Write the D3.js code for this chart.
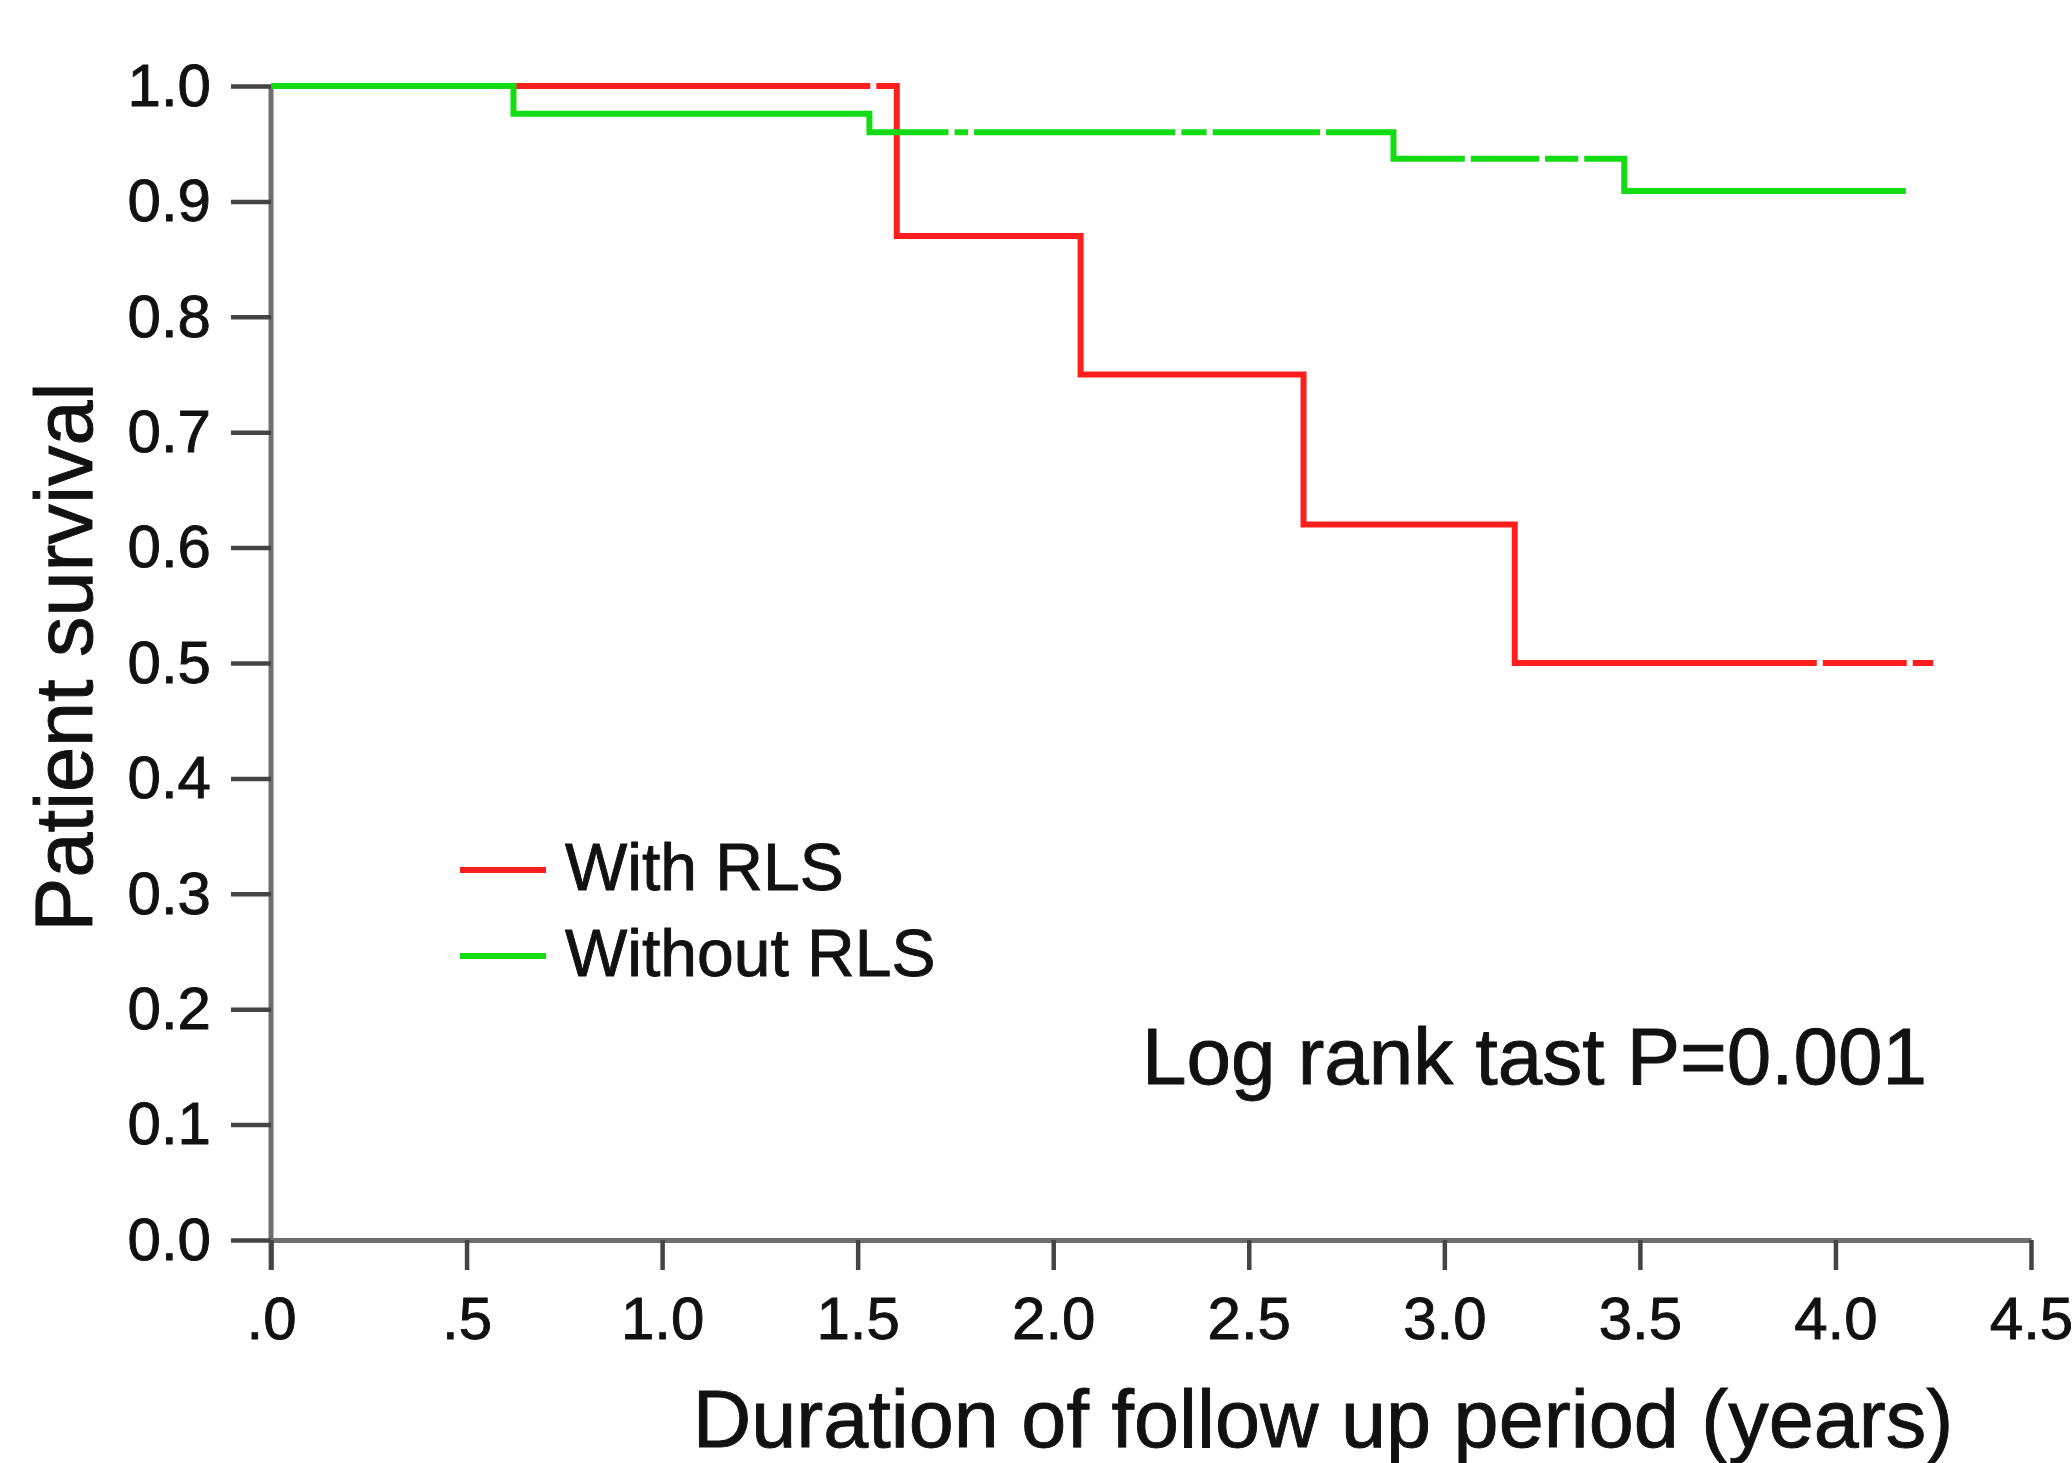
<!DOCTYPE html>
<html>
<head>
<meta charset="utf-8">
<script src="https://cdn.jsdelivr.net/npm/d3@7"></script>
<style>
    html, body { margin: 0; padding: 0; background: #fff; }
    svg text { font-family: "Liberation Sans", Arial, sans-serif; fill: #111; stroke: #111; stroke-width: 0.9px; }
</style>
</head>
<body>
<div class="svg-container"></div>
<script>
// Data
const withTimes = [0, 1.60, 2.07, 2.64, 3.18, 4.25];
const withSurv = [1.0, 0.87, 0.75, 0.62, 0.50, 0.50];
const withCensor = [1.54, 3.96, 4.19];

const withoutTimes = [0, 0.62, 1.53, 2.87, 3.46, 4.18];
const withoutSurv = [1.0, 0.976, 0.96, 0.937, 0.909, 0.909];
const withoutCensor = [1.74, 1.79, 2.32, 2.40, 2.69, 3.06, 3.25, 3.35];

const xTicks = [0, 0.5, 1.0, 1.5, 2.0, 2.5, 3.0, 3.5, 4.0, 4.5];
const xTickLabels = ['.0', '.5', '1.0', '1.5', '2.0', '2.5', '3.0', '3.5', '4.0', '4.5'];
const yTicks = [0, 0.1, 0.2, 0.3, 0.4, 0.5, 0.6, 0.7, 0.8, 0.9, 1.0];

const legendNames = ['With RLS', 'Without RLS'];
const legendColors = ['#ff1e1e', '#14dc14'];

const chart = (() => {
    // Constant
    const SIZE = { WIDTH: 2072, HEIGHT: 1463 };
    const PLOT = { LEFT: 271, RIGHT: 2031, TOP: 86, BOTTOM: 1240 };
    const AXIS_COLOR = '#6e6e6e';

    const initSVG = () => {
        return d3.select('.svg-container').append('svg')
                 .attr('width', SIZE.WIDTH)
                 .attr('height', SIZE.HEIGHT);
    };

    const x = d3.scaleLinear().domain([0, 4.5]).range([PLOT.LEFT, PLOT.RIGHT]);
    const y = d3.scaleLinear().domain([0, 1]).range([PLOT.BOTTOM, PLOT.TOP]);

    /**
     * Axes with ticks pointing outward
     */
    const drawAxes = (svg) => {
        let yAxis = svg.append('g')
            .attr('transform', `translate(${PLOT.LEFT},0)`)
            .call(d3.axisLeft(y).tickValues(yTicks).tickFormat(d3.format('.1f'))
                  .tickSize(40).tickPadding(20).tickSizeOuter(0));
        let xAxis = svg.append('g')
            .attr('transform', `translate(0,${PLOT.BOTTOM})`)
            .call(d3.axisBottom(x).tickValues(xTicks).tickFormat((d, i) => xTickLabels[i])
                  .tickSize(30).tickPadding(26).tickSizeOuter(0));

        [xAxis, yAxis].forEach(g => {
            g.select('.domain').attr('stroke', AXIS_COLOR).attr('stroke-width', 5);
            g.selectAll('.tick line').attr('stroke', '#444').attr('stroke-width', 4.5);
            g.selectAll('.tick text').attr('font-size', 60).attr('fill', '#111');
        });
        // the y axis runs down through the x axis
        yAxis.select('.domain').attr('d', `M0,${PLOT.TOP}V${PLOT.BOTTOM + 30}`);
    };

    /**
     * Step curve with small gaps at the censored times
     */
    const drawCurve = (svg, times, surv, censor, color) => {
        let pts = times.map((t, i) => [t, surv[i]]);
        let line = d3.line().x(d => x(d[0])).y(d => y(d[1])).curve(d3.curveStepAfter);
        svg.append('path')
           .attr('d', line(pts))
           .attr('fill', 'none')
           .attr('stroke', color)
           .attr('stroke-width', 6);

        const survAt = t => surv[d3.bisectRight(times, t) - 1];
        svg.append('g').selectAll('rect')
           .data(censor)
           .enter()
           .append('rect')
           .attr('x', d => x(d) - 3)
           .attr('y', d => y(survAt(d)) - 5)
           .attr('width', 6)
           .attr('height', 10)
           .attr('fill', '#fff');
    };

    const drawLegend = (svg) => {
        let g = svg.append('g');
        let rows = g.selectAll('g').data(legendNames).enter().append('g')
                    .attr('transform', (d, i) => `translate(460, ${870 + i * 86})`);
        rows.append('line')
            .attr('x1', 0).attr('x2', 86)
            .attr('stroke', (d, i) => legendColors[i])
            .attr('stroke-width', 6);
        rows.append('text')
            .attr('x', 105).attr('y', 20)
            .attr('font-size', 66)
            .text(d => d);
    };

    const drawTitles = (svg) => {
        svg.append('text')
           .attr('transform', `translate(92, 657) rotate(-90)`)
           .attr('text-anchor', 'middle')
           .attr('font-size', 81)
           .text('Patient survival');
        svg.append('text')
           .attr('x', 1323).attr('y', 1447)
           .attr('text-anchor', 'middle')
           .attr('font-size', 81)
           .text('Duration of follow up period (years)');
        svg.append('text')
           .attr('x', 1927).attr('y', 1084)
           .attr('text-anchor', 'end')
           .attr('font-size', 80)
           .text('Log rank tast P=0.001');
    };

    const init = () => {
        let svg = initSVG();
        drawAxes(svg);
        drawCurve(svg, withTimes, withSurv, withCensor, legendColors[0]);
        drawCurve(svg, withoutTimes, withoutSurv, withoutCensor, legendColors[1]);
        drawLegend(svg);
        drawTitles(svg);
    };

    return { init: init };
})();

chart.init();
</script>
</body>
</html>
